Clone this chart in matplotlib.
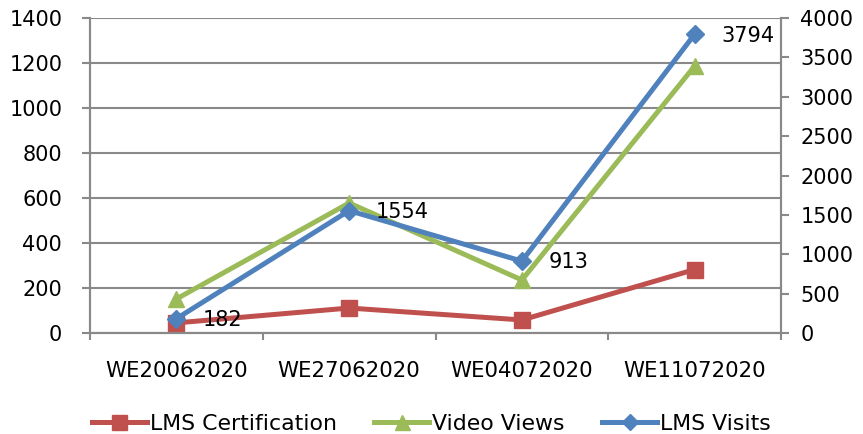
import matplotlib.pyplot as plt
from matplotlib.ticker import FixedLocator

weeks = ["WE20062020", "WE27062020", "WE04072020", "WE11072020"]
lms_certification = [45, 111, 58, 282]
video_views = [432, 1651, 673, 3390]
lms_visits = [182, 1554, 913, 3794]

RED = "#C0504D"
GREEN = "#9BBB59"
BLUE = "#4F81BD"
GRAY = "#898989"

plt.rcParams["font.family"] = "DejaVu Sans"

fig = plt.figure(figsize=(8.63, 4.34), dpi=100)
ax = fig.add_axes([0.1043, 0.2327, 0.8007, 0.7258])
ax2 = ax.twinx()

x = list(range(len(weeks)))

l1, = ax.plot(x, lms_certification, color=RED, lw=3.6, marker="s", ms=12,
              label="LMS Certification")
l2, = ax2.plot(x, video_views, color=GREEN, lw=3.6, marker="^", ms=12,
               label="Video Views")
l3, = ax2.plot(x, lms_visits, color=BLUE, lw=3.6, marker="D", ms=9.5,
               label="LMS Visits")

for xi, v in zip(x, lms_visits):
    ax2.annotate(f"{v}", (xi, v), xytext=(19, -1), textcoords="offset points",
                 ha="left", va="center", fontsize=15)

ax.set_xlim(-0.5, 3.5)
ax.set_ylim(0, 1400)
ax2.set_ylim(0, 4000)
ax.set_yticks(range(0, 1401, 200))
ax2.set_yticks(range(0, 4001, 500))
ax.set_xticks(x)
ax.set_xticklabels(weeks)
ax.xaxis.set_minor_locator(FixedLocator([-0.5, 0.5, 1.5, 2.5, 3.5]))

ax.grid(axis="y", color=GRAY, lw=1.5)
ax.set_axisbelow(True)

for a in (ax, ax2):
    a.spines["top"].set_visible(False)
    for s in ("left", "right", "bottom"):
        a.spines[s].set_color(GRAY)
        a.spines[s].set_linewidth(1.5)

ax.tick_params(axis="x", which="major", length=0, labelsize=15.3, pad=20)
ax.tick_params(axis="x", which="minor", length=5, width=1.5, color=GRAY)
ax.tick_params(axis="y", length=6, width=1.5, color=GRAY, labelsize=15, pad=14)
ax2.tick_params(axis="y", length=6, width=1.5, color=GRAY, labelsize=15, pad=8)

fig.legend(handles=[l1, l2, l3], loc="lower center", bbox_to_anchor=(0.5, -0.045),
           ncol=3, frameon=False, fontsize=15.8, handlelength=2.5,
           handletextpad=0.15, columnspacing=1.7, markerscale=0.9)

fig.savefig("out.png", dpi=100)
